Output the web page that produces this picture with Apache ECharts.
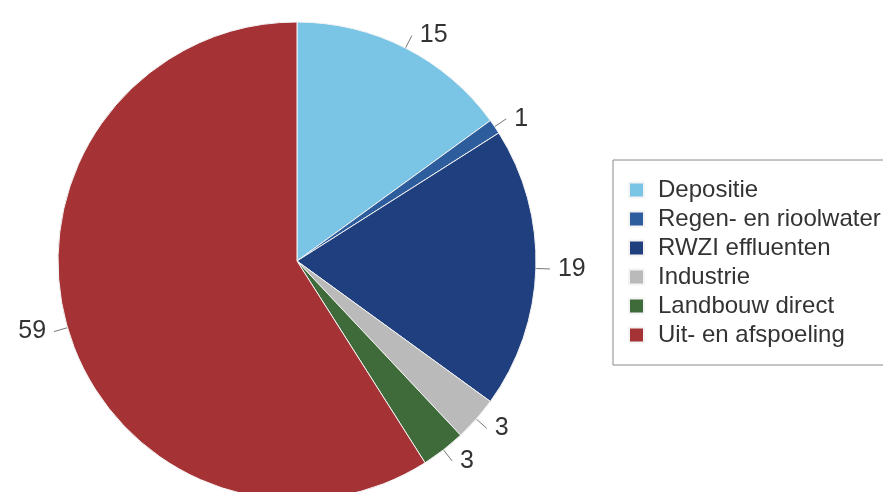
<!DOCTYPE html>
<html>
<head>
<meta charset="utf-8">
<script src="https://cdn.jsdelivr.net/npm/echarts@6/dist/echarts.min.js"></script>
<style>
html,body{margin:0;padding:0;background:#fff;}
#c{width:883px;height:492px;}
</style>
</head>
<body>
<div id="c"></div>
<script>
var categories = ['Depositie', 'Regen- en rioolwater', 'RWZI effluenten', 'Industrie', 'Landbouw direct', 'Uit- en afspoeling'];
var values = [15, 1, 19, 3, 3, 59];
var colors = ['#7AC5E6', '#2E5D9E', '#1F3F7E', '#B9BAB9', '#3F6B3A', '#A53336'];

var chart = echarts.init(document.getElementById('c'), null, {renderer: 'canvas'});
var data = categories.map(function (n, i) {
  return {name: n, value: values[i], itemStyle: {color: colors[i]}};
});
chart.setOption({
  backgroundColor: '#ffffff',
  animation: false,
  textStyle: {fontFamily: 'Liberation Sans'},
  legend: {
    orient: 'vertical',
    left: 613,
    top: 160,
    padding: [18, 40, 18, 15],
    borderColor: '#8a8a8a',
    borderWidth: 1,
    itemWidth: 15,
    itemHeight: 15,
    itemGap: 5,
    icon: 'rect',
    selectedMode: false,
    textStyle: {fontSize: 24, lineHeight: 24, color: '#333', fontFamily: 'Liberation Sans', padding: [0, 0, 0, 9]},
    data: categories
  },
  series: [{
    type: 'pie',
    center: [297, 261],
    radius: 239,
    startAngle: 90,
    clockwise: true,
    avoidLabelOverlap: false,
    itemStyle: {borderColor: '#f4f4f4', borderWidth: 1},
    label: {
      show: true,
      formatter: '{c}',
      fontSize: 25,
      color: '#333',
      fontFamily: 'Liberation Sans',
      distanceToLabelLine: 8
    },
    labelLine: {
      show: true,
      length: 14,
      length2: 0,
      lineStyle: {color: '#777', width: 1}
    },
    emphasis: {disabled: true},
    data: data
  }]
});
</script>
</body>
</html>
